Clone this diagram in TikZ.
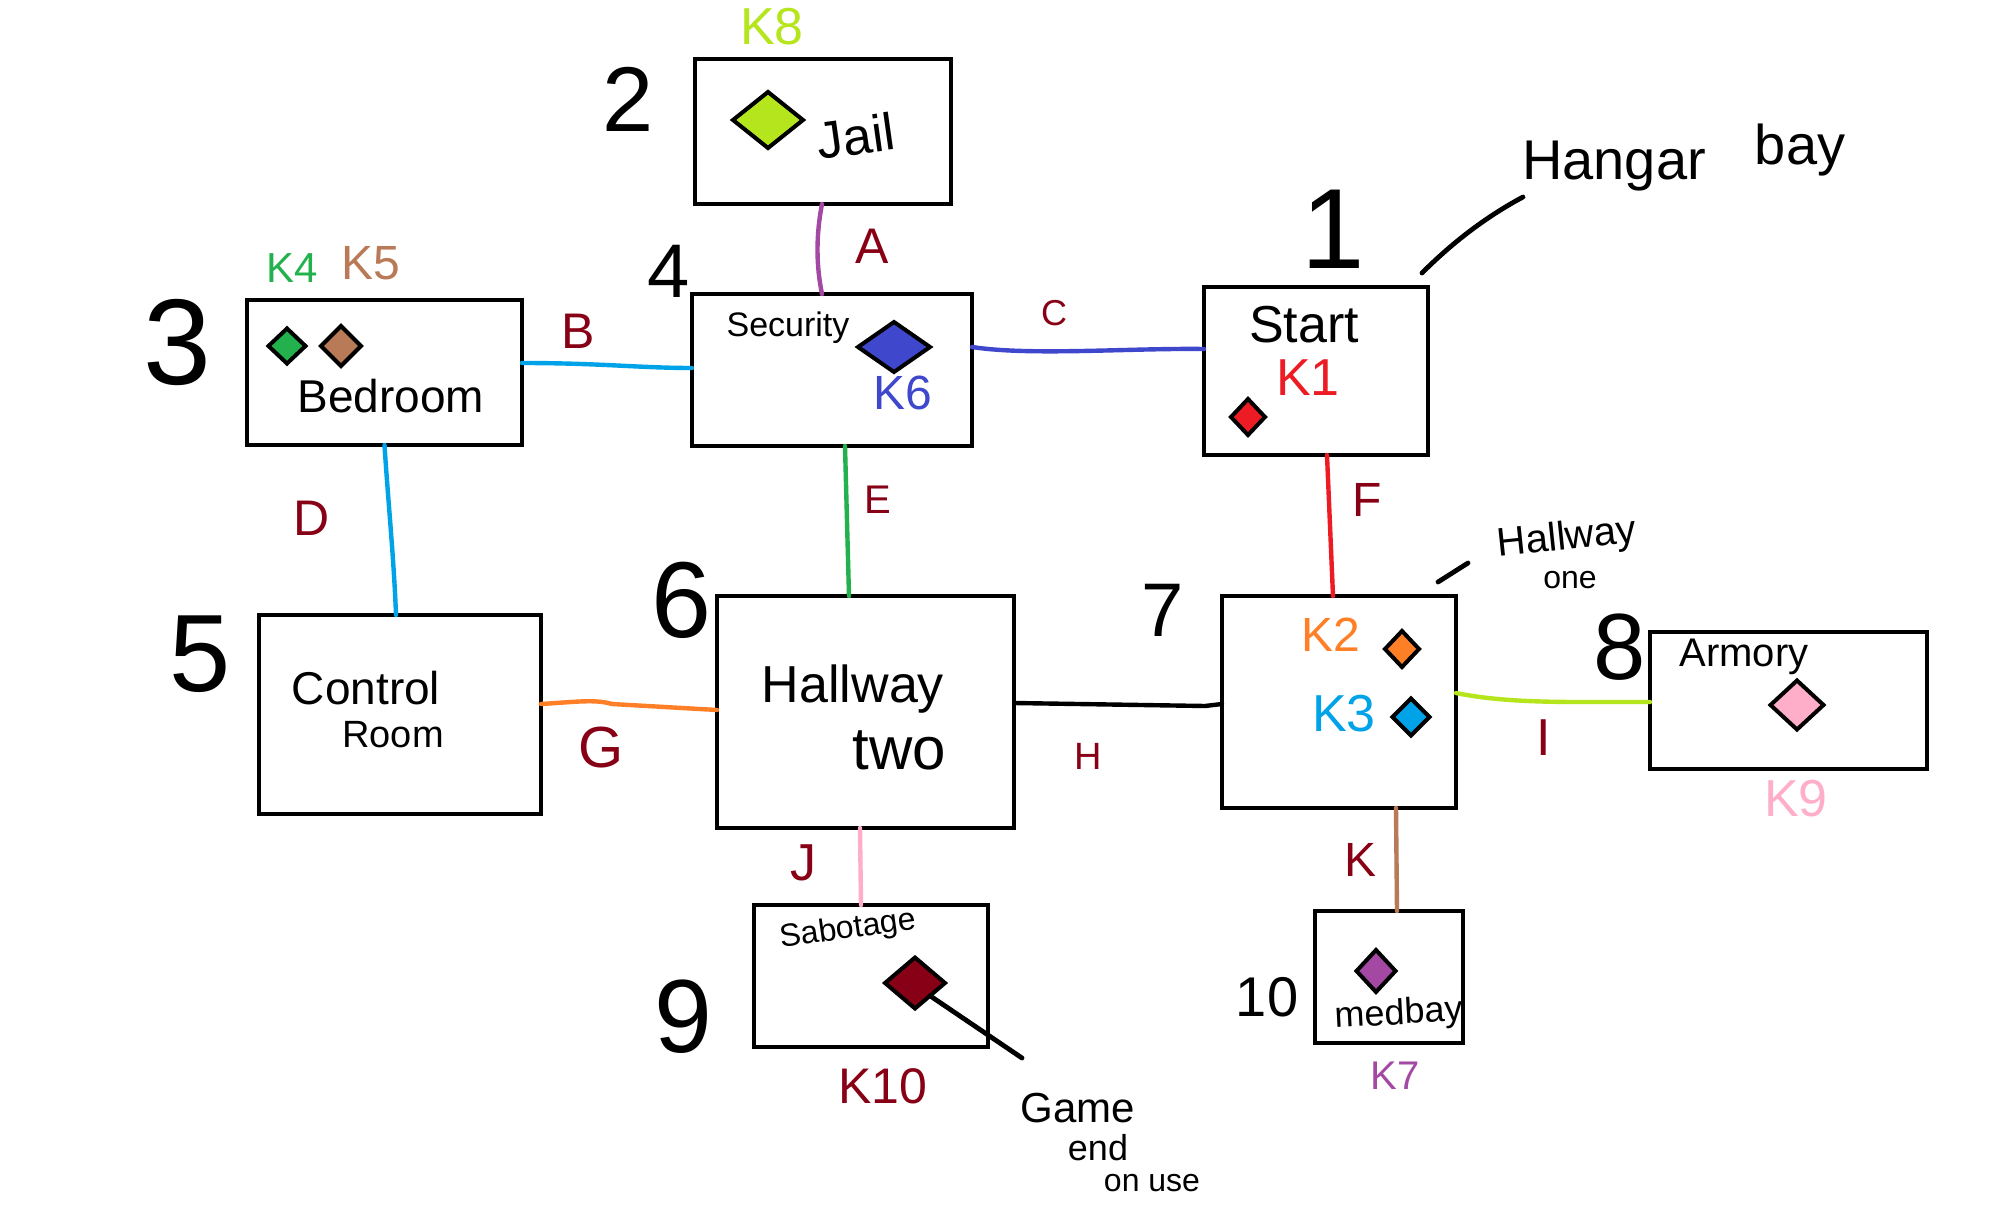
\documentclass[tikz,border=0pt]{standalone}
\usepackage{fontspec}
\setmainfont{Liberation Sans}
\usetikzlibrary{shapes.geometric,calc}
\definecolor{cyg}{HTML}{B5E61D}
\definecolor{cblue}{HTML}{3F48CC}
\definecolor{cgreen}{HTML}{22B14C}
\definecolor{cbrown}{HTML}{B97A57}
\definecolor{cred}{HTML}{ED1C24}
\definecolor{corange}{HTML}{FF7F27}
\definecolor{clblue}{HTML}{00A2E8}
\definecolor{cpink}{HTML}{FFAEC9}
\definecolor{kdr}{HTML}{880015}
\definecolor{cpurple}{HTML}{A349A4}
\newcommand{\fsz}[1]{\fontsize{#1}{#1}\selectfont}
\begin{document}
\begin{tikzpicture}[x=0.5pt,y=-0.5pt,
 room/.style={draw=black, line width=2.4pt, inner sep=0pt, outer sep=0pt},
 key/.style={diamond, draw=black, line width=2pt, inner sep=0pt, outer sep=0pt},
 conn/.style={line width=2.2pt, line cap=round},
 pen/.style={line width=2.4pt, line cap=round},
 lbl/.style={text=kdr, inner sep=0pt},
 txt/.style={inner sep=0pt}]
\useasboundingbox (0,0) rectangle (2010,1220);
\fill[white] (0,0) rectangle (2010,1220);

% rooms
\node[room, minimum width=128pt, minimum height=72.5pt] (jail) at (823,131.5) {};
\node[room, minimum width=140pt, minimum height=76pt] (security) at (832,370) {};
\node[room, minimum width=137.5pt, minimum height=72.5pt] (bedroom) at (384.5,372.5) {};
\node[room, minimum width=112pt, minimum height=84pt] (start) at (1316,371) {};
\node[room, minimum width=141pt, minimum height=99.5pt] (control) at (400,714.5) {};
\node[room, minimum width=148.5pt, minimum height=116pt] (hallwaytwo) at (865.5,712) {};
\node[room, minimum width=117pt, minimum height=106pt] (hallwayone) at (1339,702) {};
\node[room, minimum width=138.5pt, minimum height=68.5pt] (armory) at (1788.5,700.5) {};
\node[room, minimum width=117pt, minimum height=71pt] (sabotage) at (871,976) {};
\node[room, minimum width=74pt, minimum height=66pt] (medbay) at (1389,977) {};

% keys
\node[key, fill=cyg, minimum width=35pt, minimum height=28pt] (k8d) at (768,120) {};
\node[key, fill=cblue, minimum width=36pt, minimum height=25pt] (k6d) at (894,347) {};
\node[key, fill=cgreen, minimum width=18.5pt, minimum height=17.5pt] (k4d) at (287,346) {};
\node[key, fill=cbrown, minimum width=20pt, minimum height=20pt] (k5d) at (341,346) {};
\node[key, fill=cred, minimum width=17pt, minimum height=18pt] (k1d) at (1248,417) {};
\node[key, fill=corange, minimum width=17pt, minimum height=18pt] (k2d) at (1402,649) {};
\node[key, fill=clblue, minimum width=18.5pt, minimum height=18.5pt] (k3d) at (1411,717) {};
\node[key, fill=cpink, minimum width=26.5pt, minimum height=24.5pt] (k9d) at (1797,705) {};
\node[key, fill=kdr, minimum width=30pt, minimum height=25.5pt] (k10d) at (915,983) {};
\node[key, fill=cpurple, minimum width=19.5pt, minimum height=21pt] (k7d) at (1376,971) {};

% connectors
\draw[conn, cpurple] ($(jail.south)+(-1,0)$) .. controls (816,235) and (816,265) .. ($(security.north)+(-10,0)$);
\draw[conn, clblue] ($(bedroom.east)+(0,-9.5)$) .. controls (600,363) and (640,368) .. ($(security.west)+(0,-2)$);
\draw[conn, cblue] ($(security.east)+(0,-23)$) .. controls (1030,356) and (1130,348) .. ($(start.west)+(0,-22)$);
\draw[conn, clblue] (bedroom.south) .. controls (388,500) and (394,560) .. ($(control.north)+(-4,0)$);
\draw[conn, cgreen] ($(security.south)+(13,0)$) -- ($(hallwaytwo.north)+(-16.5,0)$);
\draw[conn, cred] ($(start.south)+(11,0)$) -- ($(hallwayone.north)+(-6,0)$);
\draw[conn, corange] ($(control.east)+(0,-10.5)$) .. controls (575,702) and (595,699) .. (612,704) -- ($(hallwaytwo.west)+(0,-2)$);
\draw[conn, black] ($(hallwaytwo.east)+(0,-9)$) -- (1205,706) -- ($(hallwayone.west)+(0,2)$);
\draw[conn, cyg] ($(hallwayone.east)+(0,-9)$) .. controls (1490,700) and (1530,702) .. (1580,702) -- ($(armory.west)+(0,1.5)$);
\draw[conn, cpink] ($(hallwaytwo.south)+(-5.5,0)$) -- ($(sabotage.north)+(-10,0)$);
\draw[conn, cbrown] ($(hallwayone.south)+(57,0)$) -- ($(medbay.north)+(8,0)$);

% pointer lines
\coordinate (hb1) at (1422,273);
\coordinate (hb2) at (1523,197);
\draw[pen] (hb1) .. controls (1460,235) and (1495,212) .. (hb2);
\coordinate (ho1) at (1438,582);
\coordinate (ho2) at (1468,563);
\draw[pen] (ho1) -- (ho2);
\coordinate (ge) at (1022,1058);
\draw[pen] (k10d.south east) -- (ge);

% room names
\node[txt, rotate=8, font=\fsz{26}] (tjail) at (856,136) {Jail};
\node[txt, font=\fsz{17}] (tsec) at (788,328) {Security};
\node[txt, font=\fsz{23}] (tbed) at (391,396) {Bedroom};
\node[txt, font=\fsz{26}] (tstart) at (1304,325) {Start};
\node[txt, font=\fsz{23}] (tctrl) at (366,688) {Control};
\node[txt, font=\fsz{19}] (troom) at (393,735) {Room};
\node[txt, font=\fsz{26}] (thw2) at (853,689) {Hallway};
\node[txt, font=\fsz{30}] (ttwo) at (899,750) {two};
\node[txt, font=\fsz{20}] (tarm) at (1744,657) {Armory};
\node[txt, rotate=8, font=\fsz{16}] (tsab) at (848,930) {Sabotage};
\node[txt, rotate=3, font=\fsz{18}] (tmed) at (1399,1015) {medbay};
\node[txt, font=\fsz{28}] (thang) at (1614,166) {Hangar};
\node[txt, font=\fsz{28}] (tbay) at (1800,150) {bay};
\node[txt, rotate=6, font=\fsz{20}] (thw1) at (1567,539) {Hallway};
\node[txt, font=\fsz{16}] (tone) at (1570,580) {one};
\node[txt, font=\fsz{21}] (tgame) at (1078,1108) {Game};
\node[txt, font=\fsz{18}] (tend) at (1098,1148) {end};
\node[txt, font=\fsz{16}] (tonuse) at (1152,1183) {on use};

% room numbers
\node[txt, font=\fsz{57}] (n1) at (1333,229) {1};
\node[txt, font=\fsz{46}] (n2) at (628,99) {2};
\node[txt, font=\fsz{61}] (n3) at (177,343) {3};
\node[txt, font=\fsz{38}] (n4) at (669,271) {4};
\node[txt, font=\fsz{55}] (n5) at (200,654) {5};
\node[txt, font=\fsz{54}] (n6) at (682,600) {6};
\node[txt, font=\fsz{38}] (n7) at (1163,610) {7};
\node[txt, font=\fsz{47}] (n8) at (1620,647) {8};
\node[txt, font=\fsz{52}] (n9) at (683,1017) {9};
\node[txt, font=\fsz{28}] (n10) at (1267,997) {10};

% key labels
\node[txt, text=cyg, font=\fsz{26}] (k8) at (772,27) {K8};
\node[txt, text=cblue, font=\fsz{24}] (k6) at (903,393) {K6};
\node[txt, text=cgreen, font=\fsz{21}] (k4) at (292,268) {K4};
\node[txt, text=cbrown, font=\fsz{24}] (k5) at (371,263) {K5};
\node[txt, text=cred, font=\fsz{26}] (k1) at (1308,378) {K1};
\node[txt, text=corange, font=\fsz{24}] (k2) at (1331,635) {K2};
\node[txt, text=clblue, font=\fsz{26}] (k3) at (1344,714) {K3};
\node[txt, text=cpink, font=\fsz{26}] (k9) at (1796,799) {K9};
\node[txt, text=kdr, font=\fsz{25}] (k10) at (883,1086) {K10};
\node[txt, text=cpurple, font=\fsz{20}] (k7) at (1395,1076) {K7};

% door labels
\node[lbl, font=\fsz{25}] (la) at (872,246) {A};
\node[lbl, font=\fsz{25}] (lb) at (578,331) {B};
\node[lbl, font=\fsz{18}] (lc) at (1054,313) {C};
\node[lbl, font=\fsz{25}] (ld) at (312,518) {D};
\node[lbl, font=\fsz{20}] (le) at (878,500) {E};
\node[lbl, font=\fsz{24}] (lf) at (1367,500) {F};
\node[lbl, font=\fsz{29}] (lg) at (601,748) {G};
\node[lbl, font=\fsz{19}] (lh) at (1088,756) {H};
\node[lbl, font=\fsz{26}] (li) at (1544,738) {I};
\node[lbl, font=\fsz{26}] (lj) at (803,863) {J};
\node[lbl, font=\fsz{24}] (lk) at (1360,860) {K};
\end{tikzpicture}
\end{document}
